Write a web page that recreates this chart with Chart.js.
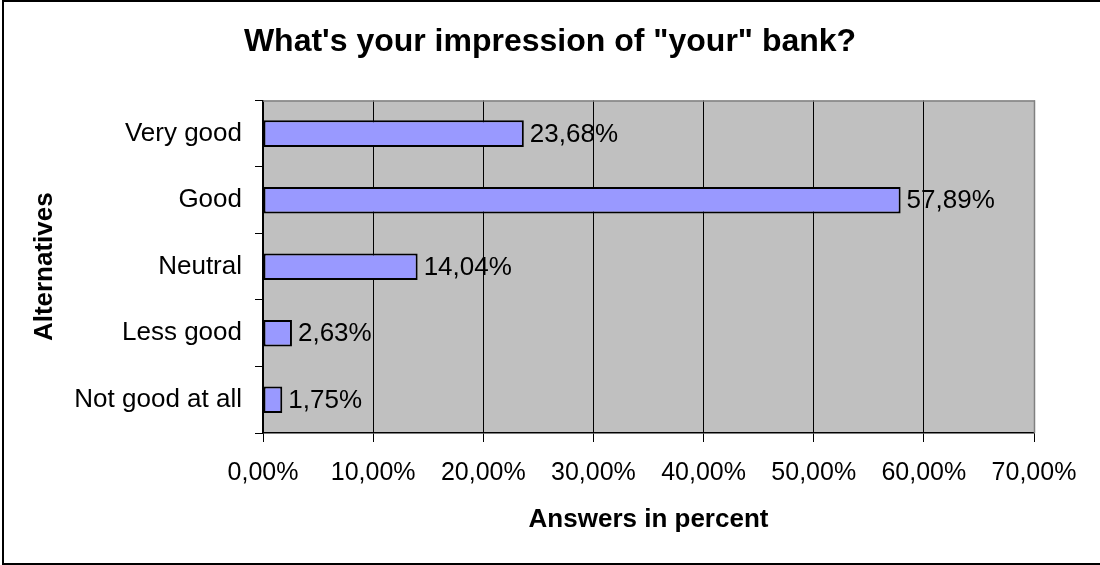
<!DOCTYPE html>
<html>
<head>
<meta charset="utf-8">
<script src="https://cdn.jsdelivr.net/npm/chart.js@4"></script>
<style>
html,body{margin:0;padding:0;background:#fff;}
canvas{display:block;}
</style>
</head>
<body>
<canvas id="c" width="1100" height="565"></canvas>
<script>
const categories = ["Very good", "Good", "Neutral", "Less good", "Not good at all"];
const values = [23.68, 57.89, 14.04, 2.63, 1.75];
const valueLabels = ["23,68%", "57,89%", "14,04%", "2,63%", "1,75%"];
const xMin = 0, xMax = 70, xStep = 10;
const titleText = "What's your impression of \"your\" bank?";
const xTitle = "Answers in percent";
const yTitle = "Alternatives";

const FONT = "'Liberation Sans', Arial, sans-serif";

const framePlugin = {
  id: 'frame',
  afterLayout(chart) {
    if (chart.titleBlock) {
      chart.titleBlock.left = 0;
      chart.titleBlock.right = chart.width;
      chart.titleBlock.width = chart.width;
    }
  },
  beforeDraw(chart) {
    const ctx = chart.ctx;
    const a = chart.chartArea;
    ctx.save();
    ctx.fillStyle = '#ffffff';
    ctx.fillRect(0, 0, chart.width, chart.height);
    ctx.fillStyle = '#C0C0C0';
    ctx.fillRect(a.left, a.top, a.right - a.left, a.bottom - a.top);
    ctx.restore();
  },
  afterDraw(chart) {
    const ctx = chart.ctx;
    const a = chart.chartArea;
    ctx.save();
    ctx.strokeStyle = '#808080';
    ctx.lineWidth = 1.5;
    ctx.beginPath();
    ctx.moveTo(a.left, a.top + 0.5);
    ctx.lineTo(a.right + 0.5, a.top + 0.5);
    ctx.lineTo(a.right + 0.5, a.bottom);
    ctx.stroke();
    ctx.strokeStyle = '#000000';
    ctx.lineWidth = 2;
    ctx.strokeRect(3, 1, chart.width + 10, chart.height - 2);
    ctx.restore();
  }
};

const valueLabelPlugin = {
  id: 'valueLabels',
  afterDatasetsDraw(chart) {
    const ctx = chart.ctx;
    const meta = chart.getDatasetMeta(0);
    ctx.save();
    ctx.font = "26px " + FONT;
    ctx.fillStyle = '#000';
    ctx.textAlign = 'left';
    ctx.textBaseline = 'middle';
    meta.data.forEach((bar, i) => {
      ctx.fillText(valueLabels[i], bar.x + 6, bar.y + 1);
    });
    ctx.restore();
  }
};

new Chart(document.getElementById('c'), {
  type: 'bar',
  data: {
    labels: categories,
    datasets: [{
      data: values,
      backgroundColor: '#9999FF',
      borderColor: '#000000',
      borderWidth: 2,
      borderSkipped: false,
      barPercentage: 0.4,
      categoryPercentage: 1.0
    }]
  },
  plugins: [framePlugin, valueLabelPlugin],
  options: {
    indexAxis: 'y',
    responsive: false,
    animation: false,
    devicePixelRatio: 1,
    layout: { padding: { left: 0, right: 66, top: 0, bottom: 0 } },
    plugins: {
      legend: { display: false },
      tooltip: { enabled: false },
      title: {
        display: true,
        text: titleText,
        color: '#000',
        font: { family: FONT, size: 32, weight: 'bold', lineHeight: 1.2 },
        padding: { top: 23, bottom: 39 }
      }
    },
    scales: {
      x: {
        type: 'linear',
        min: xMin,
        max: xMax,
        afterFit(scale) { scale.height = 132; },
        ticks: {
          stepSize: xStep,
          color: '#000',
          padding: 16,
          font: { family: FONT, size: 25 },
          callback: v => v.toFixed(2).replace('.', ',') + '%'
        },
        grid: {
          color: ctx => (ctx.tick && ctx.tick.value === xMax) ? '#808080' : '#000000',
          lineWidth: 1,
          tickLength: 9,
          drawTicks: true,
          tickColor: '#000'
        },
        border: { display: true, color: '#000', width: 1.5 },
        title: {
          display: true,
          text: xTitle,
          color: '#000',
          font: { family: FONT, size: 26, weight: 'bold', lineHeight: 1.2 },
          padding: { top: 0, bottom: 30 }
        }
      },
      y: {
        type: 'category',
        afterFit(scale) { scale.width = 263; },
        ticks: {
          color: '#000',
          padding: 13,
          font: { family: FONT, size: 26 }
        },
        grid: {
          offset: true,
          drawOnChartArea: false,
          drawTicks: true,
          tickLength: 8,
          color: '#000',
          tickColor: '#000'
        },
        border: { display: true, color: '#000', width: 1.5 },
        title: {
          display: true,
          text: yTitle,
          color: '#000',
          font: { family: FONT, size: 26, weight: 'bold', lineHeight: 1.2 },
          padding: { top: 29, bottom: 0 }
        }
      }
    }
  }
});
</script>
</body>
</html>
